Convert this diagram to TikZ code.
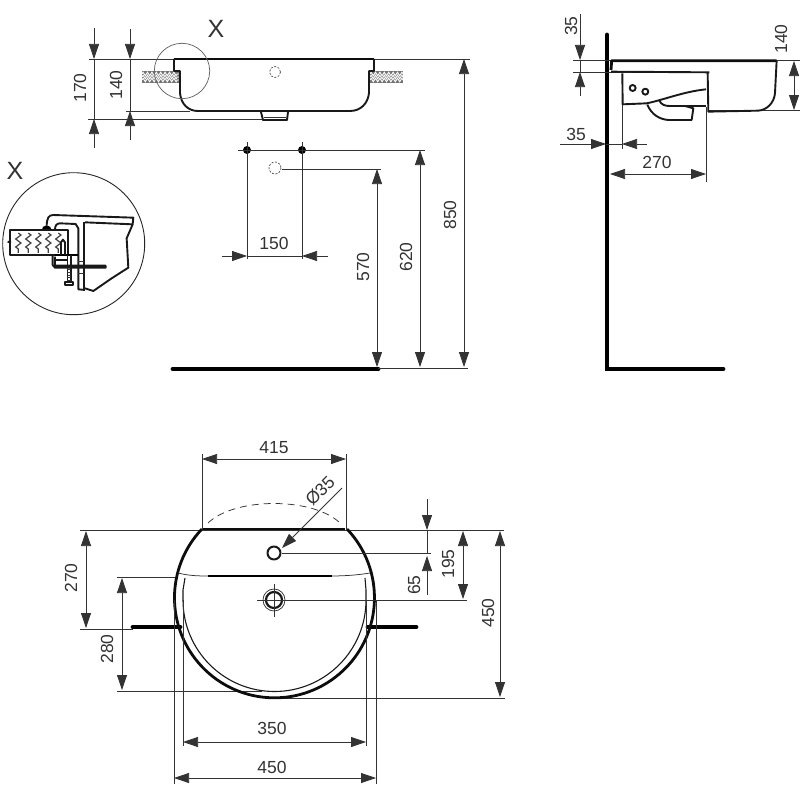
\documentclass[tikz,border=0pt]{standalone}
\usepackage{fontspec}
\setmainfont{Liberation Sans}
\usetikzlibrary{
    arrows.meta,
    decorations.pathmorphing
}

\begin{document}
\begin{tikzpicture}[x=1pt, y=-1pt,
        every node/.style={text=black!80, font=\fontsize{17.5}{19}\selectfont, inner sep=0pt},
        thin line/.style={line width=0.75pt, black!80},
        body/.style={line width=1.9pt, black!90, line join=round},
        thick body/.style={line width=2.8pt, black!95, line join=round},
        wall/.style={line width=4.8pt, black, line cap=round},
        dim/.style={thin line, {Stealth[length=15pt,width=10pt,inset=0pt]}-{Stealth[length=15pt,width=10pt,inset=0pt]}},
        dim end/.style={thin line, -{Stealth[length=15pt,width=10pt,inset=0pt]}},
        hole/.style={line width=0.7pt, black!70, dash pattern=on 2pt off 1.5pt},
        chip/.style={white, line width=0.9pt, decorate, decoration={zigzag, segment length=4.4pt, amplitude=1.8pt}},
        crossmark/.style={font=\fontsize{25}{25}\selectfont}
    ]
        \useasboundingbox (0,0) rectangle (800,800);

        % front view
        \fill[black!55] (142,71) rectangle (179,83);
        \fill[black!55] (370,71) rectangle (403,83);
        \foreach \row in {74, 77, 80} {
            \draw[chip] (142,\row) -- (179,\row);
            \draw[chip] (370,\row) -- (403,\row);
        }
        \draw[thin line] (89,59) -- (470,59);
        \draw[thin line] (88,119) -- (262,119);
        \draw[thin line] (126,111) -- (190,111);
        \draw[thick body] (174,59) -- (374,59);
        \draw[body] (174,59) -- (174,71) -- (180,71) -- (180,93) .. controls (181,104) and (188,111) .. (198,111)
            -- (350,111) .. controls (361,111) and (368,103) .. (369,93) -- (369,71) -- (374,71) -- (374,59);
        \draw[body] (261,112) -- (263,120) -- (287,120) -- (288,112);
        \draw[thin line] (264,117.5) -- (286,117.5);
        \draw[thin line, black!60] (182,71) circle[radius=27.7];
        \draw[hole] (275,72) circle[radius=5.5];
        \node[crossmark] (markfront) at (216,29) {X};
        \draw[dim end] (94,28) -- (94,59);
        \draw[thin line] (94,59) -- (94,119);
        \draw[dim end] (94,148) -- (94,119);
        \draw[dim end] (130,29) -- (130,59);
        \draw[thin line] (130,59) -- (130,111);
        \draw[dim end] (130,140) -- (130,111);
        \node[rotate=90] (h170) at (80,88) {170};
        \node[rotate=90] (h140) at (116,85) {140};

        % holes below the front view
        \fill[black] (247,150) circle[radius=4] (302,150) circle[radius=4];
        \draw[thin line] (238,150) -- (425,150);
        \draw[thin line] (247,142) -- (247,259);
        \draw[thin line] (302,142) -- (302,259);
        \draw[hole] (275,168) circle[radius=6];
        \draw[thin line] (282,169) -- (381,169);
        \draw[dim end] (222,256) -- (247,256);
        \draw[dim end] (328,256) -- (302,256);
        \draw[thin line] (247,256) -- (302,256);
        \node (w150) at (274,243) {150};
        \draw[wall] (173,369) -- (378,369);
        \draw[thin line] (378,368) -- (468,368);
        \draw[dim] (377,169) -- (377,367);
        \draw[dim] (420,150) -- (420,367);
        \draw[dim] (464,59) -- (464,367);
        \node[rotate=90] (h570) at (363,267) {570};
        \node[rotate=90] (h620) at (406,257) {620};
        \node[rotate=90] (h850) at (450,215) {850};

        % detail X
        \node[crossmark] (markdetail) at (15,171) {X};
        \draw[thin line, black!85, line width=0.9pt] (73.7,243.7) circle[radius=71];
        \begin{scope}[shift={(5,205)}, scale=0.3333]
            \fill[black] (110,76) arc[start angle=180, end angle=360, radius=15] -- cycle;
            \draw[body] (15,76) rectangle (190,150);
            \foreach \col in {40, 70, 100, 130, 160} {
                \draw[black!75, line width=1.2pt, decorate, decoration={zigzag, segment length=8pt, amplitude=2.6pt}] (\col,84) -- (\col,144);
            }
            \draw[body] (8,110) -- (18,113);
            \draw[body] (125,62) .. controls (126,40) and (130,30) .. (145,30) -- (385,38) -- (383,58) -- (240,52);
            \draw[body] (150,74) .. controls (150,62) and (155,55) .. (165,55) -- (212,57) -- (220,70) -- (220,253) -- (240,255);
            \draw[body] (237,52) -- (237,255);
            \draw[body] (383,58) -- (365,100) -- (370,188) -- (320,220) -- (265,258) -- (240,250);
            \draw[line width=2.4pt, black] (150,150) -- (218,150);
            \draw[body] (143,152) -- (143,180) -- (150,188) -- (302,188) -- (302,182) -- (150,182) -- (150,155);
            \draw[body] (150,165) -- (190,165);
            \draw[body] (168,150) -- (168,112) -- (174,104) -- (180,112) -- (180,150);
            \draw[thin line] (220,170) -- (237,170);
            \draw[thin line] (220,205) -- (237,205);
            \draw[line width=1.3pt, black!90] (187,150) -- (187,230);
            \draw[line width=1.3pt, black!90] (198,150) -- (198,230);
            \foreach \tick in {194, 202, 210, 218, 226} {
                \draw[thin line] (187,\tick) -- (198,\tick);
            }
            \draw[body] (180,230) rectangle (205,240);
        \end{scope}

        % side view
        \draw[wall] (607,35) -- (607,369) -- (723,369);
        \draw[thin line] (573,60) -- (800,60);
        \draw[thin line] (573,72) -- (708,72);
        \draw[thin line] (708,110) -- (800,110);
        \begin{scope}[shift={(550,10)}, scale=0.3333]
            \draw[thick body] (183,180) -- (185,152) -- (680,152);
            \draw[body] (680,152) -- (675,250) .. controls (672,280) and (650,300) .. (625,302) -- (475,305) -- (473,187);
            \draw[body] (183,185) -- (478,187);
            \draw[body] (217,190) -- (218,283) -- (290,280) .. controls (340,270) and (400,245) .. (468,238);
            \draw[body] (248,234) circle[radius=9];
            \draw[body] (286,245) circle[radius=9];
            \draw[body] (292,284) .. controls (305,315) and (330,328) .. (355,330) -- (425,330) -- (430,295) -- (405,288);
            \draw[body] (328,272) .. controls (335,285) and (345,288) .. (360,288) -- (468,288);
        \end{scope}
        \draw[thin line] (622,105) -- (622,149);
        \draw[thin line] (706,107) -- (706,182);
        \draw[dim end] (580,14) -- (580,60);
        \draw[dim end] (580,96) -- (580,72);
        \draw[thin line] (580,60) -- (580,72);
        \draw[dim end] (560,144) -- (606,144);
        \draw[dim end] (647,144) -- (622,144);
        \draw[thin line] (606,144) -- (622,144);
        \draw[dim] (610,174) -- (706,174);
        \draw[dim] (794,61) -- (794,110);
        \node[rotate=90] (d35) at (571,26) {35};
        \node[rotate=90] (d140) at (781,39) {140};
        \node (w35) at (576,134) {35};
        \node (w270) at (657,162) {270};

        % top view
        \draw[wall] (133,627) -- (180,627);
        \draw[wall] (368,627) -- (416,627);
        \draw[thin line] (80,530) -- (504,530);
        \draw[thin line] (80,629) -- (133,629);
        \draw[thin line] (117,577) -- (177,577);
        \draw[thin line] (117,691) -- (262,691);
        \draw[thin line] (273,698) -- (505,698);
        \draw[thick body] (203,529) -- (345,529);
        \draw[thick body] (347,529) arc[start angle=-43.5, end angle=223.5, radius=100];
        \draw[line width=1.1pt, black!90] (366,600) arc[start angle=0, end angle=180, radius=91.5];
        \draw[line width=1.1pt, black!90] (366,600) -- (366,590) -- (365,578);
        \draw[line width=1.1pt, black!90] (183,600) -- (183,590) -- (185,578);
        \draw[thin line] (178,573) .. controls (190,576) and (200,576) .. (210,576) -- (330,576)
            .. controls (345,576) and (358,575) .. (370,573);
        \draw[line width=2.6pt, black] (208,576) -- (332,576);
        \draw[thin line, dash pattern=on 7pt off 5pt] (208,523) .. controls (235,497) and (313,497) .. (340,523);
        \draw[body, line width=2pt] (274,553) circle[radius=6.5];
        \draw[thin line] (274,600) circle[radius=11];
        \draw[body, line width=2.2pt] (274,600) circle[radius=8];
        \draw[thin line] (274,584) -- (274,617);
        \draw[thin line] (257,600) -- (467,600);
        \draw[thin line] (282,553) -- (431,553);
        \draw[dim end] (342,488) -- (282,548);
        \draw[thin line] (202,454) -- (202,530);
        \draw[thin line] (346,454) -- (346,530);
        \draw[dim] (202,459) -- (346,459);
        \draw[dim end] (427,499) -- (427,530);
        \draw[thin line] (427,530) -- (427,553);
        \draw[dim end] (427,595) -- (427,556);
        \draw[dim] (463,531) -- (463,599);
        \draw[dim] (500,531) -- (500,697);
        \draw[dim] (86,531) -- (86,628);
        \draw[dim] (122,578) -- (122,690);
        \draw[thin line] (174,600) -- (174,784);
        \draw[thin line] (376,600) -- (376,784);
        \draw[thin line] (183,600) -- (183,746);
        \draw[thin line] (366,600) -- (366,746);
        \draw[dim] (183,742) -- (366,742);
        \draw[dim] (174,778) -- (376,778);
        \node (w415) at (274,448) {415};
        \node[rotate=45] (dia35) at (320,491) {Ø35};
        \node[rotate=90] (h65) at (414,585) {65};
        \node[rotate=90] (h195) at (448,564) {195};
        \node[rotate=90] (h450) at (488,613) {450};
        \node[rotate=90] (h270) at (71,578) {270};
        \node[rotate=90] (h280) at (107,649) {280};
        \node (w350) at (272,728) {350};
        \node (w450) at (272,767) {450};
    \end{tikzpicture}
\end{document}
